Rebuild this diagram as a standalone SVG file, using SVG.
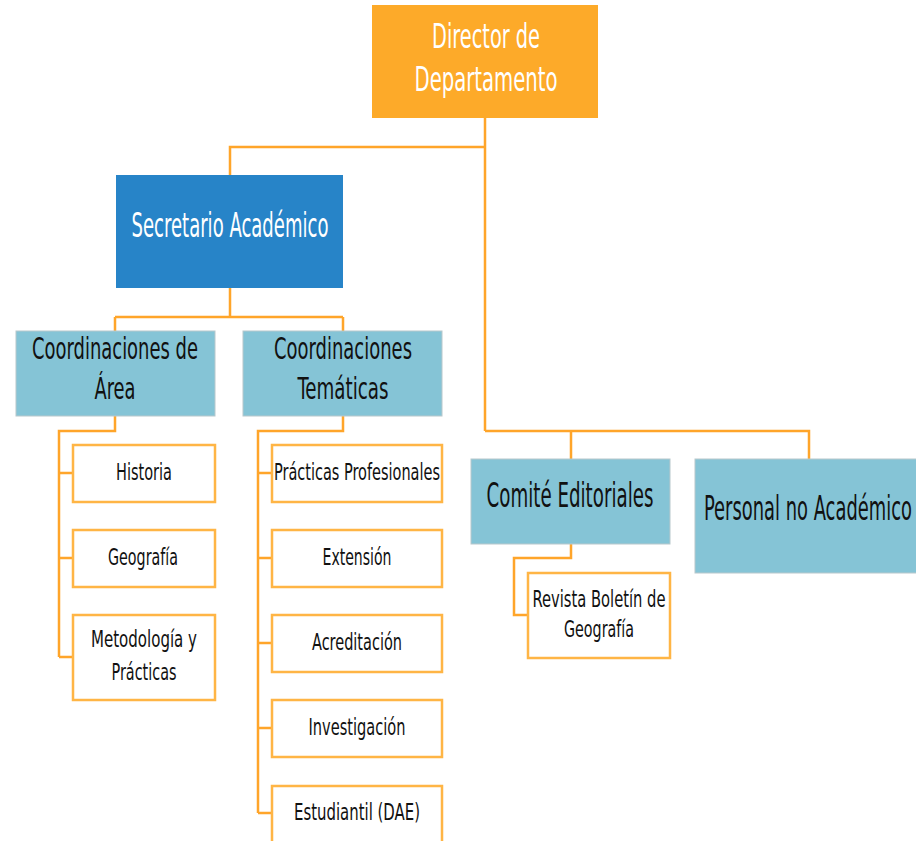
<svg xmlns="http://www.w3.org/2000/svg" width="916" height="841" viewBox="0 0 916 841">
<style>
text{font-family:'Liberation Sans Narrow','DejaVu Sans Condensed','Liberation Sans',sans-serif;text-anchor:middle}
.w{fill:#ffffff}
.k{fill:#111111}
.big{font-size:33px}
.mid{font-size:30px}
.sm{font-size:23px}
.or{fill:#FDAA29}
.bl{fill:#2784C8}
.lb{fill:#85C4D6;stroke:#b8c8cc;stroke-width:1}
.leaf{fill:#ffffff;stroke:#FFB545;stroke-width:2.5}
.c{fill:none;stroke:#FFA52A;stroke-width:2.5}
</style>
<rect width="916" height="841" fill="#ffffff"/>
<g id="connectors">
<path class="c" d="M485 118V431M485 147H230V175"/>
<path class="c" d="M230 288V317M115 317H343M115 317V331M343 317V331"/>
<path class="c" d="M115 416V431H59V657M59 473H73M59 558H73M59 657H73"/>
<path class="c" d="M343 416V431H258V813M258 473H272M258 558H272M258 643H272M258 728H272M258 813H272"/>
<path class="c" d="M485 431H809V459M571 431V459"/>
<path class="c" d="M571 544V558H514V615H528"/>
</g>
<g id="director">
<rect class="or" x="372" y="5" width="226" height="113"/>
<text class="w big" x="486" y="48" textLength="108" lengthAdjust="spacingAndGlyphs">Director de</text>
<text class="w big" x="486" y="91" textLength="143" lengthAdjust="spacingAndGlyphs">Departamento</text>
</g>
<g id="secretario">
<rect class="bl" x="116" y="175" width="227" height="113"/>
<text class="w big" x="230" y="237" textLength="197" lengthAdjust="spacingAndGlyphs">Secretario Académico</text>
</g>
<g id="coord-area">
<rect class="lb" x="16" y="331" width="199" height="85"/>
<text class="k mid" x="115" y="359" textLength="166" lengthAdjust="spacingAndGlyphs">Coordinaciones de</text>
<text class="k mid" x="115" y="399" textLength="41" lengthAdjust="spacingAndGlyphs">Área</text>
</g>
<g id="coord-tematicas">
<rect class="lb" x="243" y="331" width="199" height="85"/>
<text class="k mid" x="343" y="359" textLength="138" lengthAdjust="spacingAndGlyphs">Coordinaciones</text>
<text class="k mid" x="343" y="399" textLength="91" lengthAdjust="spacingAndGlyphs">Temáticas</text>
</g>
<g id="historia">
<rect class="leaf" x="73" y="445" width="142" height="57"/>
<text class="k sm" x="144" y="480" textLength="56" lengthAdjust="spacingAndGlyphs">Historia</text>
</g>
<g id="geografia">
<rect class="leaf" x="73" y="530" width="142" height="57"/>
<text class="k sm" x="143" y="565" textLength="70" lengthAdjust="spacingAndGlyphs">Geografía</text>
</g>
<g id="metodologia">
<rect class="leaf" x="73" y="615" width="142" height="85"/>
<text class="k sm" x="144" y="647" textLength="106" lengthAdjust="spacingAndGlyphs">Metodología y</text>
<text class="k sm" x="144" y="680" textLength="65" lengthAdjust="spacingAndGlyphs">Prácticas</text>
</g>
<g id="practicas-profesionales">
<rect class="leaf" x="272" y="445" width="170" height="57"/>
<text class="k sm" x="357" y="480" textLength="166" lengthAdjust="spacingAndGlyphs">Prácticas Profesionales</text>
</g>
<g id="extension">
<rect class="leaf" x="272" y="530" width="170" height="57"/>
<text class="k sm" x="357" y="565" textLength="69" lengthAdjust="spacingAndGlyphs">Extensión</text>
</g>
<g id="acreditacion">
<rect class="leaf" x="272" y="615" width="170" height="57"/>
<text class="k sm" x="357" y="650" textLength="90" lengthAdjust="spacingAndGlyphs">Acreditación</text>
</g>
<g id="investigacion">
<rect class="leaf" x="272" y="700" width="170" height="57"/>
<text class="k sm" x="357" y="735" textLength="97" lengthAdjust="spacingAndGlyphs">Investigación</text>
</g>
<g id="estudiantil">
<rect class="leaf" x="272" y="786" width="170" height="70"/>
<text class="k sm" x="357" y="820" textLength="126" lengthAdjust="spacingAndGlyphs">Estudiantil (DAE)</text>
</g>
<g id="comite">
<rect class="lb" x="471" y="459" width="199" height="85"/>
<text class="k big" x="570" y="507" textLength="167" lengthAdjust="spacingAndGlyphs">Comité Editoriales</text>
</g>
<g id="personal">
<rect class="lb" x="695" y="459" width="230" height="114"/>
<text class="k big" x="808" y="520" textLength="208" lengthAdjust="spacingAndGlyphs">Personal no Académico</text>
</g>
<g id="revista">
<rect class="leaf" x="528" y="573" width="142" height="85"/>
<text class="k sm" x="599" y="607" textLength="133" lengthAdjust="spacingAndGlyphs">Revista Boletín de</text>
<text class="k sm" x="599" y="637" textLength="70" lengthAdjust="spacingAndGlyphs">Geografía</text>
</g>
</svg>
